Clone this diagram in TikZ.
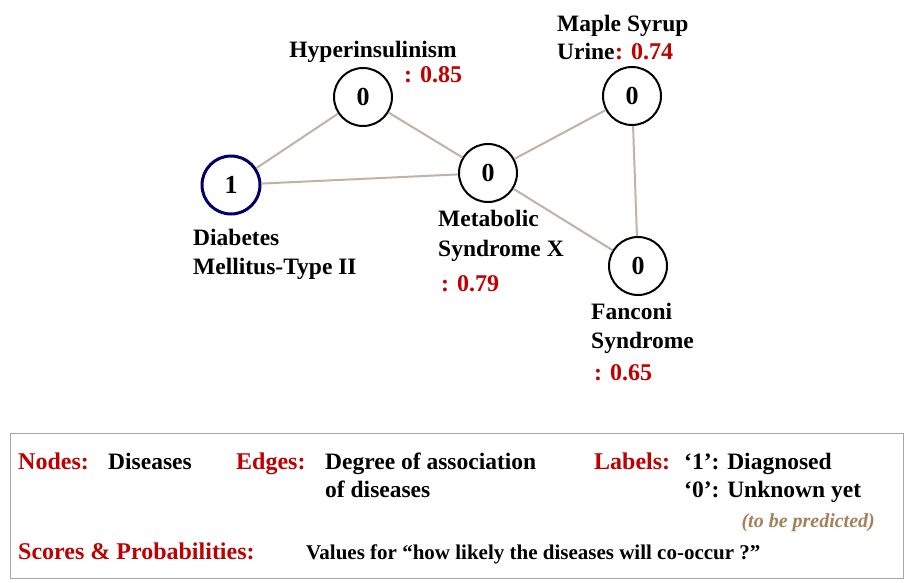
\documentclass[tikz,border=0pt]{standalone}
\usepackage{fontspec}
\setmainfont{Liberation Serif}
\begin{document}
\begin{tikzpicture}[x=1pt,y=-1pt,
 dz/.style={circle,draw=black,line width=2pt,minimum size=58pt,inner sep=0pt,font=\bfseries\fontsize{26}{28}\selectfont},
 ed/.style={draw=brown!40!gray!60,line width=2pt},
 bl/.style={anchor=base west,inner sep=0pt,font=\bfseries\fontsize{23.5}{25}\selectfont},
 rd/.style={bl,text=red!75!black,font=\bfseries\fontsize{24}{26}\selectfont}]
\path[use as bounding box] (0,0) rectangle (904,582);
\node[dz,draw=blue!40!black,line width=3pt] (d) at (231,185) {1};
\node[dz] (h) at (363,97) {0};
\node[dz] (m) at (488,173) {0};
\node[dz] (p) at (632,96) {0};
\node[dz] (f) at (638,266) {0};
\draw[ed] (d)--(h); \draw[ed] (d)--(m); \draw[ed] (h)--(m);
\draw[ed] (m)--(p); \draw[ed] (m)--(f); \draw[ed] (p)--(f);
\node[bl,anchor=base] (t1) at (373,57) {Hyperinsulinism};
\node[rd] (s1) at (404,82) {: 0.85};
\node[bl] (t2) at (557,31) {Maple Syrup};
\node[bl] (t3) at (557,59) {Urine};
\node[rd] (s2) at (t3.base east) {: 0.74};
\node[bl] (t4) at (193,245) {Diabetes};
\node[bl] (t5) at (193,274) {Mellitus-Type II};
\node[bl] (t6) at (438,226) {Metabolic};
\node[bl] (t7) at (438,256) {Syndrome X};
\node[rd] (s3) at (441,291) {: 0.79};
\node[bl] (t8) at (591,319) {Fanconi};
\node[bl] (t9) at (591,348) {Syndrome};
\node[rd] (s4) at (594,380) {: 0.65};
\draw[gray!70,line width=1pt] (10,433) rectangle (903,578);
\node[rd] (a1) at (18,469) {Nodes:};
\node[bl] (a2) at (108,469) {Diseases};
\node[rd] (b1) at (236,469) {Edges:};
\node[bl] (b2) at (325,469) {Degree of association};
\node[bl] (b3) at (325,497) {of diseases};
\node[rd] (c1) at (594,469) {Labels:};
\node[bl] (c2) at (684,469) {‘1’: Diagnosed};
\node[bl] (c3) at (684,497) {‘0’: Unknown yet};
\node[bl,anchor=base east,text=brown!60!gray,font=\bfseries\itshape\fontsize{20}{22}\selectfont] (c4) at (875,527) {(to be predicted)};
\node[rd] (e1) at (18,559) {Scores \& Probabilities:};
\node[bl,font=\bfseries\fontsize{21}{23}\selectfont] (e2) at (306,559) {Values for “how likely the diseases will co-occur ?”};
\end{tikzpicture}
\end{document}
